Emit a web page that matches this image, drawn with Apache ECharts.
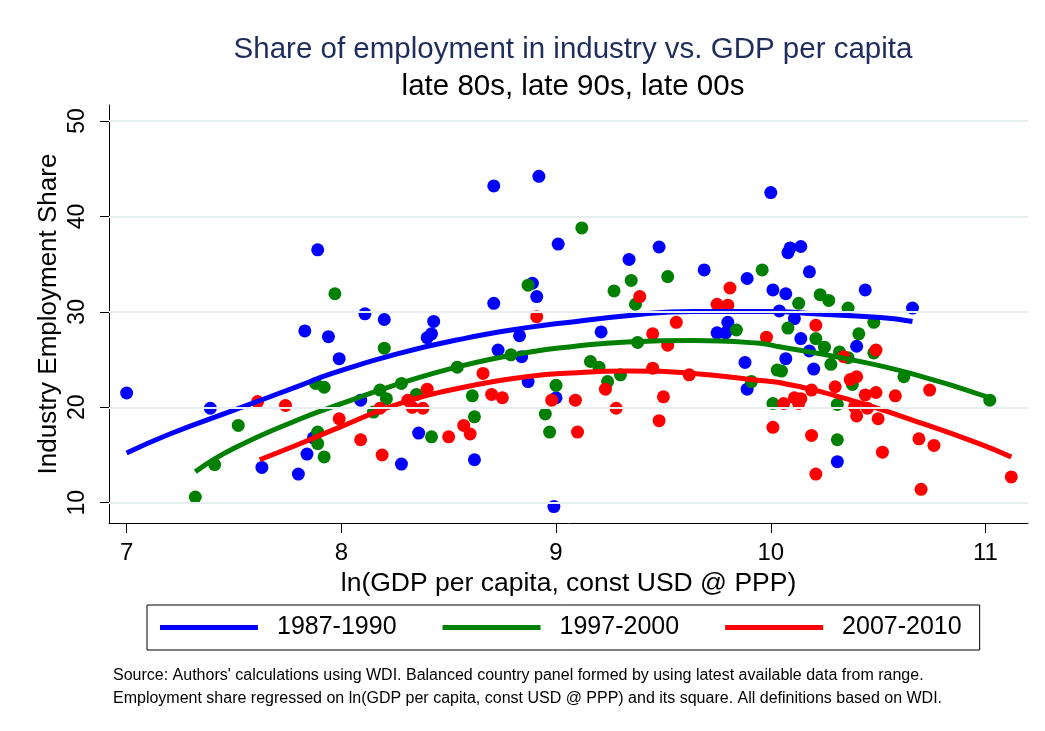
<!DOCTYPE html>
<html>
<head>
<meta charset="utf-8">
<script src="https://cdn.jsdelivr.net/npm/echarts@6/dist/echarts.min.js"></script>
<style>
html,body{margin:0;padding:0;background:#fff;}
#chart{width:1045px;height:731px;}
</style>
</head>
<body>
<div id="chart"></div>
<script>
// ---- Data ----
const seriesNames = ['1987-1990', '1997-2000', '2007-2010'];
const xTicks = [7, 8, 9, 10, 11];
const yTicks = [10, 20, 30, 40, 50];

const pts1987 = [
  [7.00,21.5],[7.39,19.9],[7.63,13.7],[7.80,13.0],[7.84,15.1],[7.83,28.0],[7.87,16.8],
  [7.89,36.5],[7.94,27.4],[7.99,25.1],[8.09,20.75],[8.11,29.8],[8.20,29.2],[8.28,14.05],
  [8.36,17.3],[8.40,27.3],[8.42,27.7],[8.43,29.0],[8.62,14.5],[8.71,30.9],[8.71,43.2],
  [8.73,26.0],[8.83,27.5],[8.84,25.3],[8.87,22.7],[8.89,33.0],[8.91,31.6],[8.92,44.2],
  [8.99,9.6],[9.00,21.0],[9.01,37.1],[9.21,27.9],[9.34,35.5],[9.48,36.8],[9.69,34.4],
  [9.75,27.8],[9.79,27.8],[9.80,28.9],[9.88,24.7],[9.89,21.9],[9.89,33.5],[10.00,42.5],
  [10.01,32.3],[10.04,30.1],[10.07,31.9],[10.07,25.1],[10.08,36.2],[10.09,36.7],
  [10.11,29.3],[10.14,36.85],[10.14,27.2],[10.18,25.9],[10.18,34.2],[10.20,24.0],
  [10.31,14.3],[10.40,26.4],[10.44,32.3],[10.66,30.4]
];
const pts1997 = [
  [7.32,10.6],[7.41,14.0],[7.52,18.1],[7.88,22.5],[7.89,17.4],[7.89,16.2],[7.92,22.1],
  [7.92,14.8],[7.97,31.9],[8.15,19.5],[8.18,21.8],[8.20,26.2],[8.21,20.9],[8.28,22.5],
  [8.35,21.35],[8.42,16.9],[8.54,24.2],[8.61,21.2],[8.62,19.0],[8.79,25.5],[8.87,32.8],
  [8.95,19.3],[8.97,17.4],[9.00,22.3],[9.12,38.8],[9.16,24.8],[9.20,24.2],[9.24,22.7],
  [9.27,32.2],[9.30,23.4],[9.35,33.3],[9.37,30.8],[9.38,26.8],[9.52,33.7],[9.84,28.1],
  [9.91,22.7],[9.96,34.4],[10.01,20.4],[10.03,23.9],[10.05,23.8],[10.08,28.3],[10.13,30.9],
  [10.21,27.2],[10.23,31.8],[10.25,26.3],[10.27,31.2],[10.28,24.5],[10.31,16.6],[10.31,20.3],
  [10.32,25.8],[10.36,25.2],[10.36,30.4],[10.38,22.4],[10.41,27.7],[10.48,25.7],[10.48,28.9],
  [10.62,23.2],[11.02,20.75]
];
const pts2007 = [
  [7.61,20.6],[7.74,20.2],[7.99,18.8],[8.09,16.6],[8.18,19.9],[8.19,15.0],[8.31,20.75],
  [8.33,20.0],[8.38,19.9],[8.40,21.9],[8.50,16.9],[8.57,18.1],[8.60,17.2],[8.66,23.55],
  [8.70,21.35],[8.75,21.0],[8.91,29.5],[8.98,20.75],[9.09,20.75],[9.10,17.4],[9.23,21.9],
  [9.28,19.9],[9.39,31.6],[9.45,27.7],[9.45,24.1],[9.48,18.6],[9.50,21.1],[9.52,26.5],
  [9.56,28.9],[9.62,23.4],[9.75,30.8],[9.80,30.7],[9.81,32.5],[9.98,27.35],[10.01,17.9],
  [10.06,20.4],[10.11,21.0],[10.13,20.4],[10.14,20.9],[10.19,21.8],[10.19,17.05],[10.21,28.6],
  [10.21,13.0],[10.30,22.15],[10.34,25.3],[10.37,22.9],[10.39,20.05],[10.40,23.2],[10.40,19.1],
  [10.44,21.3],[10.45,19.9],[10.49,21.55],[10.49,26.0],[10.50,18.8],[10.52,15.3],[10.58,21.2],
  [10.69,16.7],[10.70,11.4],[10.74,21.8],[10.76,16.0],[11.12,12.7]
];

// fitted curves
const fit1987 = [
  [7.00,15.2],[7.19,17.1],[7.50,19.7],[7.81,22.3],[7.95,23.5],[8.26,25.6],[8.57,27.2],
  [8.88,28.4],[9.02,28.8],[9.33,29.6],[9.64,30.05],[10.01,30.05],[10.20,29.8],[10.51,29.4],[10.66,29.0]
];
const fit1997 = [
  [7.32,13.25],[7.50,15.7],[7.81,18.8],[7.99,20.3],[8.26,22.4],[8.57,24.4],[8.88,25.8],
  [9.07,26.35],[9.33,26.85],[9.64,27.0],[9.95,26.7],[10.04,26.35],[10.35,25.1],[10.66,23.5],[11.02,21.0]
];
const fit2007 = [
  [7.62,14.5],[7.81,16.2],[7.99,17.9],[8.26,20.3],[8.57,22.1],[8.88,23.25],[9.07,23.6],
  [9.33,23.8],[9.64,23.55],[9.95,22.8],[10.04,22.6],[10.35,20.9],[10.66,18.65],[10.97,16.2],[11.12,14.8]
];

const colors = ['#0000ff', '#008000', '#ff0000'];
const FONT = "'Liberation Sans', Arial, Helvetica, sans-serif";

const chart = echarts.init(document.getElementById('chart'), null, {renderer: 'canvas'});

const scatterData = [pts1987, pts1997, pts2007];
const fitData = [fit1987, fit1997, fit2007];

const series = [];
// gridlines host
series.push({
  type: 'line', name: 'grid', data: [], z: 0, silent: true,
  markLine: {
    silent: true, symbol: 'none', label: {show: false},
    lineStyle: {color: '#e6eef1', width: 2, type: 'solid'},
    data: yTicks.map(v => ({yAxis: v}))
  }
});
scatterData.forEach((d, i) => {
  series.push({
    type: 'scatter', name: seriesNames[i] + ' pts', data: d,
    symbol: 'circle', symbolSize: 13, z: 2,
    itemStyle: {color: colors[i], opacity: 1}
  });
});
fitData.forEach((d, i) => {
  series.push({
    type: 'line', name: seriesNames[i], data: d, smooth: true,
    showSymbol: false, symbol: 'none', z: 3,
    lineStyle: {color: colors[i], width: 5, cap: 'butt'},
    itemStyle: {color: colors[i]}
  });
});

const option = {
  backgroundColor: '#ffffff',
  animation: false,
  textStyle: {fontFamily: FONT},
  title: {
    text: 'Share of employment in industry vs. GDP per capita',
    subtext: 'late 80s, late 90s, late 00s',
    left: 568, textAlign: 'center', top: 30, itemGap: 7,
    textStyle: {fontSize: 29.5, fontWeight: 'normal', color: '#1e2d5c', fontFamily: FONT},
    subtextStyle: {fontSize: 29.5, color: '#000', fontFamily: FONT}
  },
  grid: {left: 109, top: 105, right: 17, bottom: 208, containLabel: false},
  legend: {
    left: 147, top: 605, orient: 'horizontal',
    borderColor: '#000', borderWidth: 1,
    padding: [10, 18, 10, 13],
    itemWidth: 98, itemHeight: 5, itemGap: 46,
    textStyle: {fontSize: 25, color: '#000', fontFamily: FONT, padding: [0, 0, 0, 14]},
    data: seriesNames.map(n => ({name: n, icon: 'rect'}))
  },
  xAxis: {
    type: 'value', min: 6.918, max: 11.198,
    name: 'ln(GDP per capita, const USD @ PPP)',
    nameLocation: 'middle', nameGap: 35,
    nameTextStyle: {fontSize: 26.5, color: '#000', fontFamily: FONT},
    axisLine: {show: true, onZero: false, lineStyle: {color: '#000', width: 1}},
    axisTick: {show: true, customValues: xTicks, length: 10, inside: false, lineStyle: {color: '#000'}},
    axisLabel: {customValues: xTicks, fontSize: 24, color: '#000', margin: 18, fontFamily: FONT,
      formatter: v => String(v)},
    splitLine: {show: false}
  },
  yAxis: {
    type: 'value', min: 7.874, max: 51.68,
    name: 'Industry Employment Share',
    nameLocation: 'middle', nameGap: 47, nameMoveOverlap: false,
    nameTextStyle: {fontSize: 26, color: '#000', fontFamily: FONT},
    axisLine: {show: true, onZero: false, lineStyle: {color: '#000', width: 1}},
    axisTick: {show: true, customValues: yTicks, length: 9, inside: false, lineStyle: {color: '#000'}},
    axisLabel: {customValues: yTicks, rotate: 90, fontSize: 23, color: '#000', margin: 20, fontFamily: FONT,
      formatter: v => String(v)},
    splitLine: {show: false}
  },
  graphic: [
    {type: 'text', left: 113, top: 668, style: {
      text: "Source: Authors' calculations using WDI. Balanced country panel formed by using latest available data from range.",
      font: '16px ' + FONT, fill: '#000'}},
    {type: 'text', left: 113, top: 691, style: {
      text: 'Employment share regressed on ln(GDP per capita, const USD @ PPP) and its square. All definitions based on WDI.',
      font: '16px ' + FONT, fill: '#000'}}
  ],
  series: series
};
chart.setOption(option);
</script>
</body>
</html>
